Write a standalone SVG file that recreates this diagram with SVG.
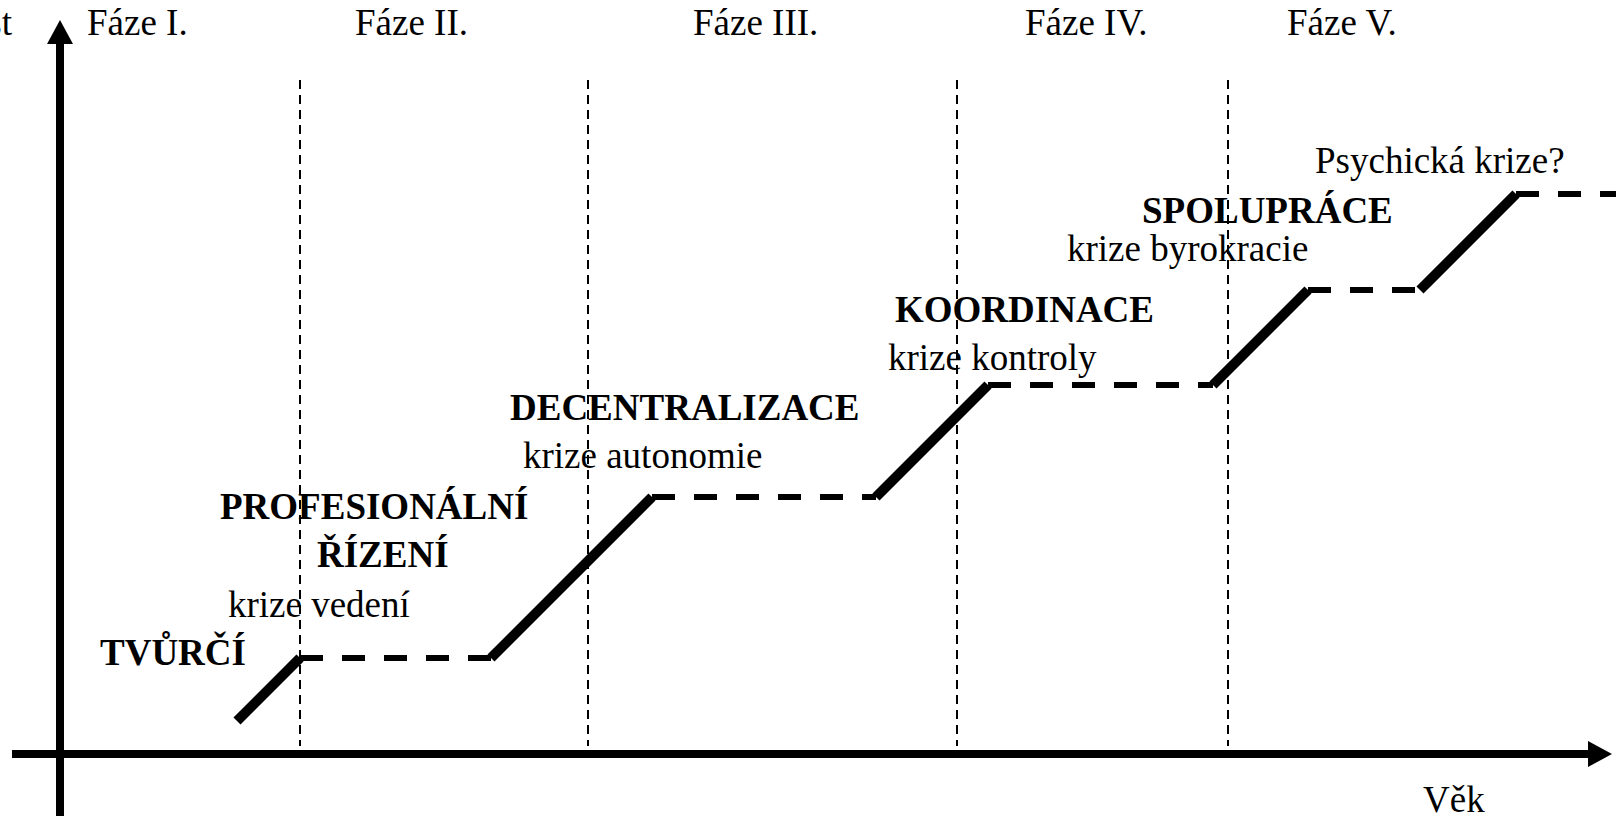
<svg xmlns="http://www.w3.org/2000/svg" width="1616" height="816" viewBox="0 0 1616 816">
<style>
text{font-family:"Liberation Serif","Times New Roman",serif;font-size:37px;fill:#000}
.b{font-weight:bold}
.axis{stroke:#000;stroke-width:8;fill:none}
.grid{stroke:#000;stroke-width:2;stroke-dasharray:9 6;fill:none}
.up{stroke:#000;stroke-width:10;stroke-linecap:butt;fill:none}
.flat{stroke:#000;stroke-width:6;stroke-dasharray:23 19;fill:none}
</style>
<rect width="1616" height="816" fill="#fff"/>
<g id="axes">
<line class="axis" x1="60" y1="816" x2="60" y2="40"/>
<polygon points="60,20 47,44 73,44" fill="#000"/>
<line class="axis" x1="12" y1="754" x2="1592" y2="754"/>
<polygon points="1612,754 1588,741 1588,767" fill="#000"/>
<text x="12" y="35" text-anchor="end">st</text>
<text x="1423" y="812">Věk</text>
</g>
<g id="phases">
<line class="grid" x1="300" y1="80" x2="300" y2="746"/>
<line class="grid" x1="588" y1="80" x2="588" y2="746"/>
<line class="grid" x1="957" y1="80" x2="957" y2="746"/>
<line class="grid" x1="1228" y1="80" x2="1228" y2="746"/>
<text x="87" y="35">Fáze I.</text>
<text x="355" y="35">Fáze II.</text>
<text x="693" y="35">Fáze III.</text>
<text x="1025" y="35">Fáze IV.</text>
<text x="1287" y="35">Fáze V.</text>
</g>
<g id="connectors">
<line class="up" x1="237" y1="721" x2="300" y2="658"/>
<line class="flat" x1="300" y1="658" x2="491" y2="658"/>
<line class="up" x1="491" y1="658" x2="652" y2="497"/>
<line class="flat" x1="652" y1="497" x2="876" y2="497"/>
<line class="up" x1="876" y1="497" x2="988" y2="385"/>
<line class="flat" x1="988" y1="385" x2="1213" y2="385"/>
<line class="up" x1="1213" y1="385" x2="1308" y2="290"/>
<line class="flat" x1="1308" y1="290" x2="1420" y2="290"/>
<line class="up" x1="1420" y1="290" x2="1516" y2="194"/>
<line class="flat" x1="1516" y1="194" x2="1616" y2="194"/>
</g>
<g id="stage1"><text class="b" x="100" y="665">TVŮRČÍ</text><text x="228" y="617">krize vedení</text></g>
<g id="stage2"><text class="b" x="220" y="519">PROFESIONÁLNÍ</text><text class="b" x="317" y="567">ŘÍZENÍ</text><text x="523" y="468">krize autonomie</text></g>
<g id="stage3"><text class="b" x="510" y="420">DECENTRALIZACE</text><text x="888" y="370">krize kontroly</text></g>
<g id="stage4"><text class="b" x="895" y="322">KOORDINACE</text><text x="1067" y="261">krize byrokracie</text></g>
<g id="stage5"><text class="b" x="1142" y="223">SPOLUPRÁCE</text><text x="1315" y="173">Psychická krize?</text></g>
</svg>
